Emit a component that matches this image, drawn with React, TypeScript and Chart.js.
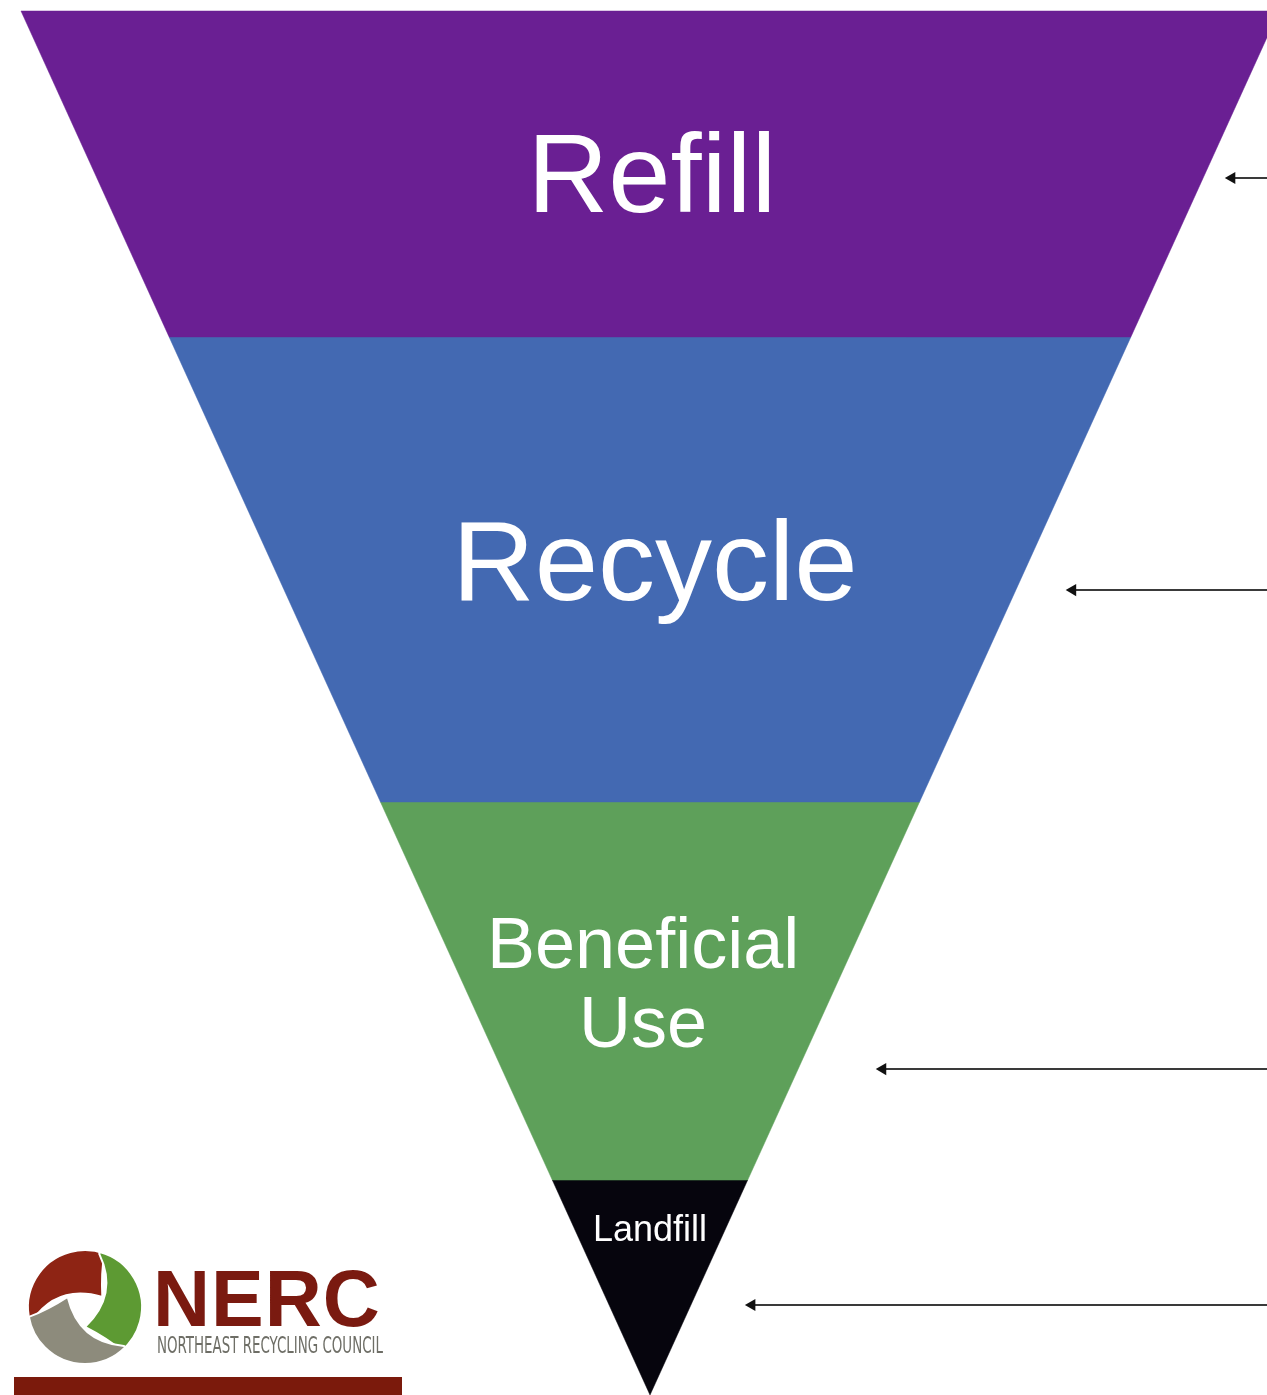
import { useEffect, useRef } from 'react';
import { Chart, registerables } from 'chart.js';

Chart.register(...registerables);

// ---- Data ----
const stages = ['Refill', 'Recycle', 'Beneficial Use', 'Landfill'];
const stageLabelLines = [['Refill'], ['Recycle'], ['Beneficial', 'Use'], ['Landfill']];
// depth through the funnel (0 = top rim, 100 = tip)
const stageDepthStart = [0, 23.55, 57.15, 84.47];
const stageDepthEnd = [23.55, 57.15, 84.47, 100];
const stageColors = ['#6A1F93', '#4369B2', '#5EA05A', '#06050D'];
// arrows pointing at each stage (depth, and horizontal position of the tip)
const arrowDepth = [12.07, 41.84, 76.45, 93.5];
const arrowTipX = [92.5, 67.2, 37.0, 16.2];

// ---- Layout (styles / positions, not data) ----
const W = 1267;
const H = 1395;
const labelFontSizes = [112, 114, 72, 36];
const labelX = [0.3, 0.8, -1.1, 0];
const labelBaseline = [14.52, 42.56, 69.15, 88.85];
const labelLineGap = 5.72;

function halfWidth(depth: number) {
  return 100 - depth;
}

const labelPlugin = {
  id: 'stageLabels',
  afterDatasetsDraw(chart: any) {
    const ctx = chart.ctx;
    const xs = chart.scales.x;
    const ys = chart.scales.y;
    ctx.save();
    ctx.fillStyle = '#ffffff';
    ctx.textAlign = 'center';
    ctx.textBaseline = 'alphabetic';
    stageLabelLines.forEach((lines, i) => {
      ctx.font = `${labelFontSizes[i]}px "Liberation Sans", Arial, sans-serif`;
      lines.forEach((line, j) => {
        ctx.fillText(
          line,
          xs.getPixelForValue(labelX[i]),
          ys.getPixelForValue(labelBaseline[i] + j * labelLineGap)
        );
      });
    });
    ctx.restore();
  },
};

function polar(cx: number, cy: number, r: number, deg: number) {
  const a = (deg * Math.PI) / 180;
  return [cx + Math.cos(a) * r, cy + Math.sin(a) * r];
}

const logoPlugin = {
  id: 'nercLogo',
  afterDraw(chart: any) {
    const ctx = chart.ctx;
    ctx.save();
    // swirl
    const cx = 85;
    const cy = 1307;
    const R = 57;
    const segs = [
      { a0: 165, a1: 290, color: '#8E2414' },
      { a0: 285, a1: 410, color: '#5D9A33' },
      { a0: 45, a1: 170, color: '#8D8B7C' },
    ];
    segs.forEach((s) => {
      ctx.beginPath();
      ctx.arc(cx, cy, R, (s.a0 * Math.PI) / 180, (s.a1 * Math.PI) / 180);
      const [tx, ty] = polar(cx, cy, 20, s.a1 + 40);
      const [c1x, c1y] = polar(cx, cy, 38, s.a1 + 5);
      ctx.quadraticCurveTo(c1x, c1y, tx, ty);
      const [c2x, c2y] = polar(cx, cy, 36, s.a0 + 55);
      const [ex, ey] = polar(cx, cy, R - 2, s.a0);
      ctx.quadraticCurveTo(c2x, c2y, ex, ey);
      ctx.closePath();
      ctx.fillStyle = s.color;
      ctx.fill();
      ctx.strokeStyle = '#ffffff';
      ctx.lineWidth = 2;
      ctx.stroke();
    });
    // NERC wordmark
    ctx.fillStyle = '#7A1A10';
    ctx.textAlign = 'left';
    ctx.textBaseline = 'alphabetic';
    ctx.font = 'bold 79px "Liberation Sans", Arial, sans-serif';
    try {
      (ctx as any).letterSpacing = '1px';
    } catch (e) {}
    ctx.fillText('NERC', 153, 1326, 232);
    try {
      (ctx as any).letterSpacing = '0px';
    } catch (e) {}
    ctx.fillStyle = '#6E6E66';
    ctx.font = '23px "Liberation Sans Narrow", "DejaVu Sans Condensed", sans-serif';
    ctx.fillText('NORTHEAST RECYCLING COUNCIL', 157, 1353, 226);
    // bar
    ctx.fillStyle = '#7B1A0C';
    ctx.fillRect(14, 1377, 388, 18);
    ctx.restore();
  },
};

export default function App() {
  const ref = useRef<HTMLCanvasElement | null>(null);

  useEffect(() => {
    if (!ref.current) return;
    const bandSets = stages.map((name, i) => {
      const d0 = stageDepthStart[i];
      const d1 = stageDepthEnd[i];
      const w0 = halfWidth(d0);
      const w1 = halfWidth(d1);
      return {
        label: name,
        data: [
          { x: -w0, y: d0 },
          { x: w0, y: d0 },
          { x: w1, y: d1 },
          { x: -w1, y: d1 },
          { x: -w0, y: d0 },
        ],
        showLine: true,
        fill: 'shape',
        backgroundColor: stageColors[i],
        borderColor: stageColors[i],
        borderWidth: 0.5,
        pointRadius: 0,
        tension: 0,
      };
    });
    const arrowSets = stages.map((name, i) => ({
      label: name + ' arrow',
      data: [
        { x: 120, y: arrowDepth[i] },
        { x: arrowTipX[i], y: arrowDepth[i] },
      ],
      showLine: true,
      fill: false,
      borderColor: '#3a3a3a',
      backgroundColor: '#111111',
      borderWidth: 2,
      pointRadius: [0, 7],
      pointStyle: 'triangle',
      rotation: -90,
      pointBorderWidth: 0,
    }));

    const chart = new Chart(ref.current, {
      type: 'scatter',
      data: { datasets: [...bandSets, ...arrowSets] as any },
      options: {
        animation: false,
        responsive: false,
        events: [],
        layout: { padding: 0, autoPadding: false },
        plugins: { legend: { display: false }, tooltip: { enabled: false } },
        scales: {
          x: { type: 'linear', min: -650 / 6.29, max: 617 / 6.29, display: false },
          y: { type: 'linear', min: -11 / 13.84, max: 100, reverse: true, display: false },
        },
      } as any,
      plugins: [labelPlugin, logoPlugin],
    });
    return () => chart.destroy();
  }, []);

  return (
    <div style={{ position: 'fixed', left: 0, top: 0, width: W, height: H, background: '#ffffff' }}>
      <canvas ref={ref} width={W} height={H} style={{ display: 'block' }} />
    </div>
  );
}
